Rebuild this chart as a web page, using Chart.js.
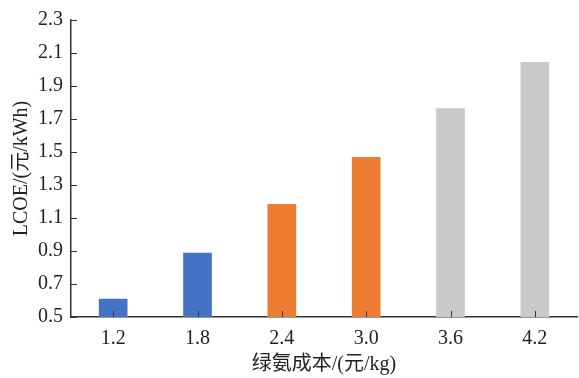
<!DOCTYPE html>
<html>
<head>
<meta charset="utf-8">
<script src="https://cdn.jsdelivr.net/npm/chart.js@4/dist/chart.umd.min.js"></script>
<style>
  html, body { margin: 0; padding: 0; background: #fff; }
  #wrap { width: 579px; height: 378px; }
</style>
</head>
<body>
<div id="wrap"><canvas id="barChart" width="579" height="378"></canvas></div>
<script>
// Data
const categories = ["1.2", "1.8", "2.4", "3.0", "3.6", "4.2"];
const lcoeValues = [0.61, 0.89, 1.185, 1.47, 1.765, 2.045];
const barColors = ["#4472C4", "#4472C4", "#ED7D31", "#ED7D31", "#C9C9C9", "#C9C9C9"];
const yTicks = [0.5, 0.7, 0.9, 1.1, 1.3, 1.5, 1.7, 1.9, 2.1, 2.3];

const serif = "'Liberation Serif', 'Times New Roman', 'Noto Sans CJK SC', serif";
const axisColor = "#333333";

// small inward tick marks on both axes
const inwardTicks = {
  id: "inwardTicks",
  afterDraw(chart) {
    const ctx = chart.ctx;
    const x = chart.scales.x, y = chart.scales.y;
    ctx.save();
    ctx.strokeStyle = axisColor;
    ctx.lineWidth = 1;
    y.ticks.forEach((t, i) => {
      const py = Math.round(y.getPixelForTick(i)) + 0.5;
      ctx.beginPath();
      ctx.moveTo(x.left, py);
      ctx.lineTo(x.left + 6, py);
      ctx.stroke();
    });
    x.ticks.forEach((t, i) => {
      const px = Math.round(x.getPixelForTick(i)) + 0.5;
      ctx.beginPath();
      ctx.moveTo(px, y.bottom);
      ctx.lineTo(px, y.bottom - 6);
      ctx.stroke();
    });
    ctx.restore();
  }
};

const ctx = document.getElementById("barChart").getContext("2d");
const barChart = new Chart(ctx, {
  type: "bar",
  data: {
    labels: categories,
    datasets: [{
      data: lcoeValues,
      backgroundColor: barColors,
      borderWidth: 0,
      categoryPercentage: 1,
      barPercentage: 0.34,
    }],
  },
  options: {
    responsive: false,
    animation: false,
    layout: { padding: { left: 4, right: 2, top: 12, bottom: 1 } },
    plugins: {
      legend: { display: false },
      tooltip: { enabled: false },
    },
    scales: {
      x: {
        grid: { display: false, drawTicks: false, tickLength: 0 },
        border: { display: true, color: axisColor, width: 1.5 },
        ticks: { color: "#222", padding: 10, font: { family: serif, size: 20 } },
        title: {
          display: true,
          text: "绿氨成本/(元/kg)",
          color: "#222",
          padding: { top: 0, bottom: 0 },
          font: { family: serif, size: 20 },
        },
        afterFit(scale) { scale.height = 60; },
      },
      y: {
        min: 0.5,
        max: 2.3,
        grid: { display: false, drawTicks: false, tickLength: 0 },
        border: { display: true, color: axisColor, width: 1.5 },
        afterBuildTicks(scale) { scale.ticks = yTicks.map(v => ({ value: v })); },
        ticks: {
          color: "#222",
          padding: 8,
          font: { family: serif, size: 20 },
          callback: v => Number(v).toFixed(1),
        },
        title: {
          display: true,
          text: "LCOE/(元/kWh)",
          color: "#222",
          padding: { top: 6, bottom: 0 },
          font: { family: serif, size: 20 },
        },
        afterFit(scale) { scale.width = 67; },
      },
    },
  },
  plugins: [inwardTicks],
});
</script>
</body>
</html>
